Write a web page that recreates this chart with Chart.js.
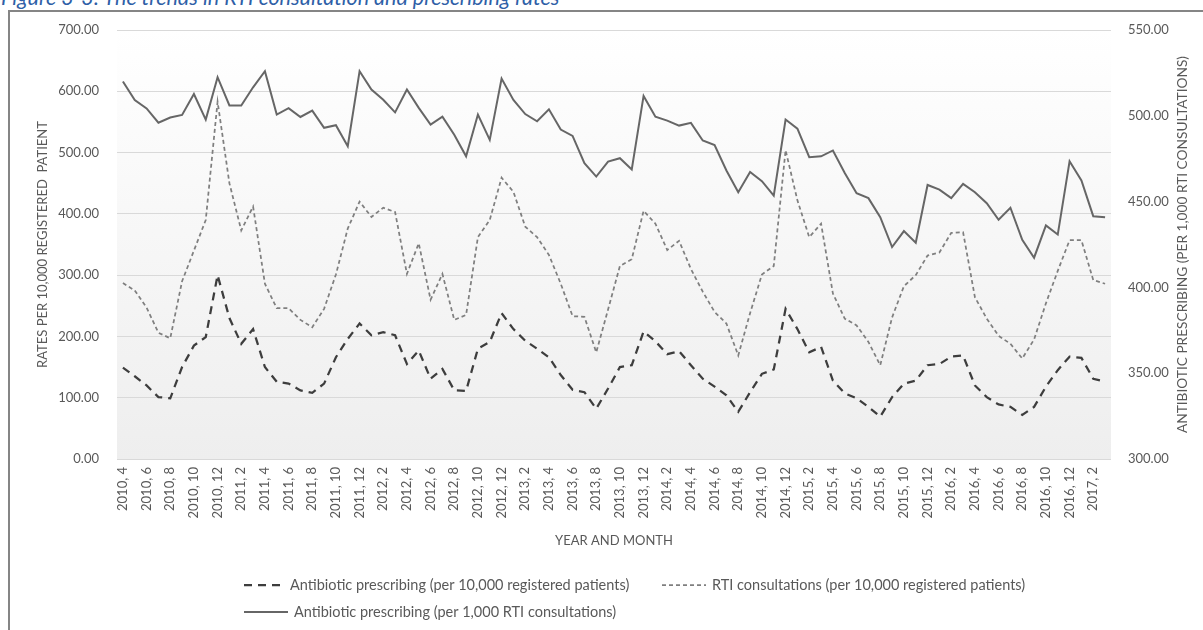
<!DOCTYPE html>
<html>
<head>
<meta charset="utf-8">
<script src="https://cdn.jsdelivr.net/npm/chart.js@4.4.1/dist/chart.umd.min.js"></script>
<style>
  html, body { margin: 0; padding: 0; background: #fff; overflow: hidden; width: 1203px; height: 630px; }
  #caption { position: absolute; left: 1px; top: -15px; font: italic 21.5px/1.2 Lato, sans-serif; color: #2f5fa7; white-space: nowrap; }
  #frame { position: absolute; left: 8px; top: 10px; width: 1300px; height: 700px; border: 2px solid #858585; box-sizing: border-box; }
  #wrap { position: absolute; left: 0; top: 0; width: 1203px; height: 630px; }
</style>
</head>
<body>
<div id="caption">Figure 3-3: The trends in RTI consultation and prescribing rates</div>
<div id="frame"></div>
<div id="wrap"><canvas id="c" width="1203" height="630"></canvas></div>
<script>
// Monthly categories, April 2010 – March 2017
const monthLabels = [];
for (let y = 2010, m = 4; !(y === 2017 && m === 4); ) {
  monthLabels.push(y + ', ' + m);
  m++; if (m > 12) { m = 1; y++; }
}

// Antibiotic prescribing per 10,000 registered patients (left axis)
const abxPerPatients = [
  149, 135, 120, 101,  99, 150, 185, 199, 300, 230, 188, 212,
  150, 126, 123, 112, 108, 123, 166, 196, 221, 202, 207, 202,
  155, 177, 131, 147, 112, 111, 180, 191, 238, 212, 193, 180,
  166, 137, 113, 109,  82, 115, 150, 153, 208, 192, 171, 176,
  153, 131, 118, 104,  77, 109, 139, 146, 245, 212, 174, 183,
  128, 107,  99,  85,  69, 101, 123, 128, 153, 155, 167, 169,
  120, 101,  89,  85,  72,  85, 118, 145, 167, 165, 131, 126
];

// RTI consultations per 10,000 registered patients (left axis)
const rtiPerPatients = [
  287, 275, 247, 206, 197, 290, 340, 390, 583, 450, 373, 412,
  286, 246, 246, 227, 215, 245, 301, 376, 420, 395, 410, 403,
  302, 352, 260, 302, 227, 235, 362, 390, 459, 436, 379, 362,
  333, 286, 233, 232, 174, 244, 315, 326, 405, 384, 341, 356,
  310, 273, 240, 221, 169, 238, 301, 315, 504, 422, 362, 384,
  270, 229, 218, 191, 153, 231, 282, 300, 332, 337, 369, 370,
  264, 229, 201, 188, 164, 195, 254, 307, 357, 357, 292, 286
];

// Antibiotic prescribing per 1,000 RTI consultations (right axis)
const abxPerConsults = [
  520.0, 509.2, 504.3, 496.0, 499.0, 500.5, 512.7, 497.8, 522.5, 506.0, 506.0, 516.6,
  526.0, 500.7, 504.5, 499.3, 503.0, 493.0, 494.5, 482.3, 526.0, 515.3, 509.3, 502.0,
  515.3, 504.6, 494.9, 499.5, 489.0, 476.4, 500.7, 486.0, 521.7, 509.2, 501.0, 496.8,
  503.8, 492.0, 488.3, 472.4, 464.6, 473.3, 475.3, 468.7, 511.6, 499.5, 497.2, 494.3,
  495.9, 485.6, 482.9, 468.1, 455.5, 467.3, 461.9, 453.5, 497.8, 492.5, 475.9, 476.4,
  479.8, 466.7, 454.9, 452.0, 440.9, 423.5, 432.8, 426.0, 459.7, 457.0, 452.0, 460.3,
  455.5, 449.1, 439.4, 446.4, 427.7, 417.3, 436.1, 430.8, 473.5, 462.3, 441.5, 440.9
];

const seriesNames = [
  'Antibiotic prescribing (per 10,000 registered patients)',
  'RTI consultations (per 10,000 registered patients)',
  'Antibiotic prescribing (per 1,000 RTI consultations)'
];

const textColor = '#595959';
const baseFont = 'Lato, "Open Sans", sans-serif';

// Soft white-to-grey fill behind the plot
const plotBackground = {
  id: 'plotBackground',
  beforeDraw(chart) {
    const { ctx, chartArea: a } = chart;
    const g = ctx.createLinearGradient(0, a.top, 0, a.bottom);
    g.addColorStop(0, '#ffffff');
    g.addColorStop(1, '#eeeeee');
    ctx.save();
    ctx.fillStyle = g;
    ctx.fillRect(a.left, a.top, a.right - a.left, a.bottom - a.top);
    ctx.restore();
  }
};

// Right-axis title, read bottom-to-top like the left one
const rightTitle = {
  id: 'rightTitle',
  afterDraw(chart) {
    const { ctx, chartArea: a } = chart;
    ctx.save();
    ctx.translate(1183, (a.top + a.bottom) / 2);
    ctx.rotate(-Math.PI / 2);
    ctx.font = '13.7px ' + baseFont;
    ctx.fillStyle = textColor;
    ctx.textAlign = 'center';
    ctx.textBaseline = 'middle';
    ctx.fillText('ANTIBIOTIC PRESCRIBING (PER 1,000 RTI CONSULTATIONS)', 0, 0);
    ctx.restore();
  }
};

// Two-row legend under the axis title
const legendSlots = [
  { x: 244, y: 585, len: 40 },
  { x: 662, y: 585, len: 44 },
  { x: 244, y: 612, len: 44 }
];
const rowLegend = {
  id: 'rowLegend',
  afterDraw(chart) {
    const ctx = chart.ctx;
    chart.data.datasets.forEach((ds, i) => {
      const s = legendSlots[i];
      ctx.save();
      ctx.strokeStyle = ds.borderColor;
      ctx.lineWidth = ds.borderWidth;
      ctx.setLineDash(ds.borderDash || []);
      ctx.beginPath();
      ctx.moveTo(s.x, s.y);
      ctx.lineTo(s.x + s.len, s.y);
      ctx.stroke();
      ctx.setLineDash([]);
      ctx.font = '14.5px ' + baseFont;
      ctx.fillStyle = textColor;
      ctx.textAlign = 'left';
      ctx.textBaseline = 'middle';
      ctx.fillText(ds.label, s.x + s.len + 6, s.y);
      ctx.restore();
    });
  }
};

new Chart(document.getElementById('c'), {
  type: 'line',
  data: {
    labels: monthLabels,
    datasets: [
      {
        label: seriesNames[0], data: abxPerPatients, yAxisID: 'y',
        borderColor: '#3d3d3d', borderWidth: 2.25, borderDash: [8, 6],
        pointRadius: 0, fill: false, tension: 0
      },
      {
        label: seriesNames[1], data: rtiPerPatients, yAxisID: 'y',
        borderColor: '#7f7f7f', borderWidth: 1.75, borderDash: [4, 3],
        pointRadius: 0, fill: false, tension: 0
      },
      {
        label: seriesNames[2], data: abxPerConsults, yAxisID: 'y1',
        borderColor: '#666666', borderWidth: 2,
        pointRadius: 0, fill: false, tension: 0
      }
    ]
  },
  options: {
    responsive: false,
    animation: false,
    layout: { padding: { top: 30, left: 0, right: 0, bottom: 81 } },
    plugins: { legend: { display: false }, tooltip: { enabled: false } },
    scales: {
      x: {
        offset: true,
        grid: { display: false, drawTicks: false },
        border: { display: false },
        ticks: {
          autoSkip: false, minRotation: 90, maxRotation: 90, padding: 8,
          color: textColor, font: { family: baseFont, size: 13 },
          callback(v, i) { return i % 2 === 0 ? monthLabels[i] : ''; }
        },
        title: {
          display: true, text: 'YEAR AND MONTH', color: textColor,
          font: { family: baseFont, size: 13 }, padding: { top: 0, bottom: 0 }
        },
        afterFit(s) { s.height = 90; }
      },
      y: {
        position: 'left', min: 0, max: 700,
        grid: { color: '#d9d9d9', drawTicks: false },
        border: { display: false },
        ticks: {
          stepSize: 100, padding: 18, color: textColor,
          font: { family: baseFont, size: 13 },
          callback(v) { return v.toFixed(2); }
        },
        title: {
          display: true, text: 'RATES PER 10,000 REGISTERED  PATIENT', color: textColor,
          font: { family: baseFont, size: 13 }, padding: { top: 35, bottom: 0 }
        },
        afterFit(s) { s.width = 117; }
      },
      y1: {
        position: 'right', min: 300, max: 550,
        grid: { display: false, drawTicks: false },
        border: { display: false },
        ticks: {
          stepSize: 50, padding: 17, color: textColor,
          font: { family: baseFont, size: 13 },
          callback(v) { return v.toFixed(2); }
        },
        afterFit(s) { s.width = 92; }
      }
    }
  },
  plugins: [plotBackground, rightTitle, rowLegend]
});
</script>
</body>
</html>
